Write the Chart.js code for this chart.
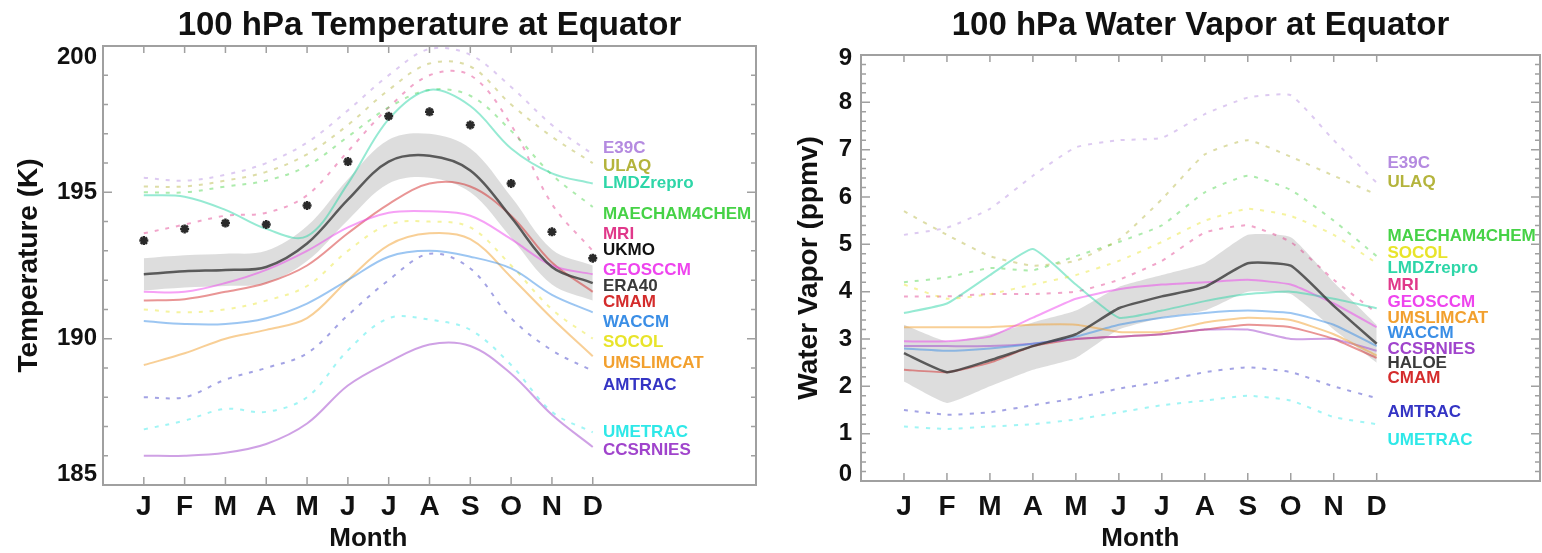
<!DOCTYPE html>
<html>
<head>
<meta charset="utf-8">
<title>100 hPa Temperature and Water Vapor at Equator</title>
<script src="https://cdn.jsdelivr.net/npm/chart.js@4.4.1/dist/chart.umd.min.js"></script>
<style>
  html, body { margin: 0; padding: 0; background: #fff; }
  #wrap { position: relative; width: 1542px; height: 553px; overflow: hidden; }
  #wrap canvas { position: absolute; top: 0; }
  #tempChart { left: 0; }
  #h2oChart { left: 770px; }
</style>
</head>
<body>
<div id="wrap">
  <canvas id="tempChart" width="770" height="553"></canvas>
  <canvas id="h2oChart" width="772" height="553"></canvas>
</div>
<script>
const months = ['J', 'F', 'M', 'A', 'M', 'J', 'J', 'A', 'S', 'O', 'N', 'D'];

// 100 hPa temperature (K), monthly climatology
const tempE39C      = [195.5, 195.4, 195.6, 196.0, 196.7, 197.8, 199.0, 199.9, 199.7, 198.6, 197.3, 196.3];
const tempULAQ      = [195.2, 195.2, 195.4, 195.7, 196.3, 197.3, 198.5, 199.4, 199.3, 198.0, 196.9, 196.0];
const tempLMDZrepro = [194.9, 194.85, 194.4, 193.75, 193.5, 195.3, 197.5, 198.5, 197.95, 196.5, 195.65, 195.3];
const tempMAECHAM   = [195.0, 195.0, 195.2, 195.4, 195.9, 196.9, 197.9, 198.5, 198.3, 197.1, 195.6, 194.5];
const tempMRI       = [193.6, 193.9, 194.2, 194.3, 194.9, 196.4, 197.9, 199.0, 199.0, 197.3, 194.6, 193.0];
const tempUKMO      = [193.35, 193.75, 193.95, 193.9, 194.55, 196.05, 197.6, 197.75, 197.3, 195.3, 193.65, 192.75];
const tempGEOSCCM   = [191.6, 191.6, 191.9, 192.35, 193.0, 193.8, 194.3, 194.35, 194.2, 193.4, 192.5, 192.2];
const tempERA40     = [192.2, 192.3, 192.35, 192.45, 193.25, 194.75, 196.05, 196.25, 195.75, 194.15, 192.45, 191.9];
const tempERA40Std  = [0.55, 0.55, 0.55, 0.55, 0.6, 0.7, 0.75, 0.75, 0.75, 0.7, 0.6, 0.6];
const tempCMAM      = [191.3, 191.35, 191.6, 191.9, 192.5, 193.6, 194.6, 195.3, 195.2, 194.2, 192.6, 191.6];
const tempWACCM     = [190.6, 190.5, 190.5, 190.7, 191.2, 192.0, 192.8, 193.0, 192.8, 192.4, 191.5, 190.9];
const tempSOCOL     = [191.0, 190.9, 191.0, 191.3, 191.8, 193.0, 193.9, 194.0, 193.8, 192.5, 191.0, 190.0];
const tempUMSLIMCAT = [189.1, 189.5, 190.0, 190.3, 190.7, 192.0, 193.2, 193.6, 193.4, 192.1, 190.7, 189.4];
const tempAMTRAC    = [188.0, 188.0, 188.6, 189.0, 189.5, 190.8, 192.0, 192.9, 192.4, 190.7, 189.6, 188.9];
const tempUMETRAC   = [186.9, 187.2, 187.6, 187.5, 188.0, 189.6, 190.7, 190.65, 190.3, 189.1, 187.5, 186.8];
const tempCCSRNIES  = [186.0, 186.0, 186.1, 186.4, 187.1, 188.4, 189.2, 189.8, 189.75, 188.8, 187.4, 186.3];

// 100 hPa water vapour (ppmv), monthly climatology
const h2oE39C      = [5.2, 5.35, 5.75, 6.45, 7.05, 7.2, 7.25, 7.75, 8.1, 8.15, 7.2, 6.3];
const h2oULAQ      = [5.7, 5.2, 4.75, 4.55, 4.65, 5.1, 5.95, 6.9, 7.2, 6.85, 6.45, 6.05];
const h2oMAECHAM   = [4.2, 4.3, 4.5, 4.45, 4.75, 5.05, 5.4, 6.1, 6.45, 6.15, 5.5, 4.75];
const h2oSOCOL     = [4.15, 3.85, 3.95, 4.15, 4.35, 4.65, 5.05, 5.5, 5.75, 5.6, 5.2, 4.6];
const h2oLMDZrepro = [3.55, 3.75, 4.35, 4.9, 4.15, 3.45, 3.6, 3.8, 3.95, 4.0, 3.85, 3.65];
const h2oMRI       = [3.9, 3.9, 3.95, 3.95, 4.0, 4.25, 4.65, 5.25, 5.4, 5.05, 4.25, 3.55];
const h2oGEOSCCM   = [2.95, 2.95, 3.05, 3.45, 3.85, 4.05, 4.15, 4.2, 4.25, 4.15, 3.75, 3.25];
const h2oUMSLIMCAT = [3.25, 3.25, 3.25, 3.3, 3.3, 3.15, 3.15, 3.35, 3.45, 3.4, 3.1, 2.65];
const h2oWACCM     = [2.8, 2.75, 2.8, 2.9, 3.05, 3.3, 3.45, 3.55, 3.6, 3.55, 3.3, 2.85];
const h2oCCSRNIES  = [2.85, 2.85, 2.85, 2.9, 3.0, 3.05, 3.1, 3.2, 3.2, 3.0, 3.0, 2.75];
const h2oHALOE     = [2.7, 2.3, 2.55, 2.85, 3.1, 3.65, 3.9, 4.1, 4.6, 4.55, 3.7, 2.9];
const h2oHALOEStd  = [0.6, 0.65, 0.55, 0.5, 0.5, 0.45, 0.45, 0.5, 0.6, 0.6, 0.5, 0.4];
const h2oCMAM      = [2.35, 2.3, 2.5, 2.85, 3.0, 3.05, 3.1, 3.2, 3.3, 3.25, 3.0, 2.6];
const h2oAMTRAC    = [1.5, 1.4, 1.45, 1.6, 1.75, 1.95, 2.1, 2.3, 2.4, 2.3, 2.0, 1.75];
const h2oUMETRAC   = [1.15, 1.1, 1.15, 1.2, 1.3, 1.45, 1.6, 1.7, 1.8, 1.7, 1.35, 1.2];

const FONT = '"Liberation Sans", Arial, Helvetica, sans-serif';
Chart.defaults.font.family = FONT;
Chart.defaults.color = '#111';

// line styles shared by both panels; tag = where the name is written at the right
const tempSeries = [
  { name: 'E39C',         values: tempE39C,      color: '#b48ae0', dashed: true,  tag: 196.5 },
  { name: 'ULAQ',         values: tempULAQ,      color: '#b4b43c', dashed: true,  tag: 195.9 },
  { name: 'LMDZrepro',    values: tempLMDZrepro, color: '#2ed6a8', dashed: false, tag: 195.3 },
  { name: 'MAECHAM4CHEM', values: tempMAECHAM,   color: '#46d246', dashed: true,  tag: 194.26 },
  { name: 'MRI',          values: tempMRI,       color: '#e0388a', dashed: true,  tag: 193.58 },
  { name: 'UKMO',         values: tempUKMO,      color: '#111111', stars: true,   tag: 193.03 },
  { name: 'GEOSCCM',      values: tempGEOSCCM,   color: '#ee44ee', dashed: false, tag: 192.35 },
  { name: 'ERA40',        values: tempERA40,     color: '#3a3a3a', dashed: false, tag: 191.8, spread: tempERA40Std },
  { name: 'CMAM',         values: tempCMAM,      color: '#d42c2c', dashed: false, tag: 191.25 },
  { name: 'WACCM',        values: tempWACCM,     color: '#3a8ee6', dashed: false, tag: 190.57 },
  { name: 'SOCOL',        values: tempSOCOL,     color: '#e8e42a', dashed: true,  tag: 189.89 },
  { name: 'UMSLIMCAT',    values: tempUMSLIMCAT, color: '#f2a02e', dashed: false, tag: 189.17 },
  { name: 'AMTRAC',       values: tempAMTRAC,    color: '#3434c4', dashed: true,  tag: 188.42 },
  { name: 'UMETRAC',      values: tempUMETRAC,   color: '#2ee8e8', dashed: true,  tag: 186.81 },
  { name: 'CCSRNIES',     values: tempCCSRNIES,  color: '#a044cc', dashed: false, tag: 186.2 }
];

const h2oSeries = [
  { name: 'E39C',         values: h2oE39C,      color: '#b48ae0', dashed: true,  tag: 6.72 },
  { name: 'ULAQ',         values: h2oULAQ,      color: '#b4b43c', dashed: true,  tag: 6.3 },
  { name: 'MAECHAM4CHEM', values: h2oMAECHAM,   color: '#46d246', dashed: true,  tag: 5.16 },
  { name: 'SOCOL',        values: h2oSOCOL,     color: '#e8e42a', dashed: true,  tag: 4.82 },
  { name: 'LMDZrepro',    values: h2oLMDZrepro, color: '#2ed6a8', dashed: false, tag: 4.5 },
  { name: 'MRI',          values: h2oMRI,       color: '#e0388a', dashed: true,  tag: 4.14 },
  { name: 'GEOSCCM',      values: h2oGEOSCCM,   color: '#ee44ee', dashed: false, tag: 3.78 },
  { name: 'UMSLIMCAT',    values: h2oUMSLIMCAT, color: '#f2a02e', dashed: false, tag: 3.44 },
  { name: 'WACCM',        values: h2oWACCM,     color: '#3a8ee6', dashed: false, tag: 3.13 },
  { name: 'CCSRNIES',     values: h2oCCSRNIES,  color: '#a044cc', dashed: false, tag: 2.79 },
  { name: 'HALOE',        values: h2oHALOE,     color: '#3a3a3a', dashed: false, tag: 2.49, spread: h2oHALOEStd },
  { name: 'CMAM',         values: h2oCMAM,      color: '#d42c2c', dashed: false, tag: 2.18 },
  { name: 'AMTRAC',       values: h2oAMTRAC,    color: '#3434c4', dashed: true,  tag: 1.46 },
  { name: 'UMETRAC',      values: h2oUMETRAC,   color: '#2ee8e8', dashed: true,  tag: 0.87 }
];

function alpha(hex, a) {
  const n = parseInt(hex.slice(1), 16);
  return `rgba(${(n >> 16) & 255}, ${(n >> 8) & 255}, ${n & 255}, ${a})`;
}

const toPoints = vals => vals.map((v, i) => ({ x: i + 1, y: v }));

function buildDatasets(series, tension) {
  const sets = [];
  series.forEach(s => {
    if (s.spread) {
      // shaded +/- 1 sigma envelope behind the observed curve
      sets.push({ data: toPoints(s.values.map((v, i) => v + s.spread[i])),
        borderWidth: 0, pointRadius: 0, fill: false, tension, order: 50 });
      sets.push({ data: toPoints(s.values.map((v, i) => v - s.spread[i])),
        borderWidth: 0, pointRadius: 0, fill: '-1', tension, order: 50,
        backgroundColor: 'rgba(170, 170, 170, 0.4)' });
    }
    if (s.stars) {
      sets.push({ label: s.name, data: toPoints(s.values), showLine: false,
        pointStyle: 'star', pointRadius: 4.5, borderWidth: 2.5, borderColor: '#2a2a2a',
        tagColor: s.color, tag: s.tag, order: 0 });
      return;
    }
    const dark = !!s.spread;
    sets.push({
      label: s.name,
      data: toPoints(s.values),
      borderColor: dark ? alpha(s.color, 0.8) : alpha(s.color, s.dashed ? 0.45 : 0.5),
      borderWidth: dark ? 2.5 : 2,
      borderDash: s.dashed ? [4, 7] : [],
      pointRadius: 0,
      fill: false,
      tension,
      tagColor: s.color,
      tag: s.tag,
      order: dark ? 1 : 5
    });
  });
  return sets;
}

// box frame with inward ticks, y values, month axis title and series names
const idlFrame = {
  id: 'idlFrame',
  afterDatasetsDraw(chart, args, opts) {
    const { ctx, chartArea: a, scales: { x, y } } = chart;
    ctx.save();
    ctx.strokeStyle = '#a0a0a0';
    ctx.lineWidth = 2;
    ctx.strokeRect(a.left, a.top, a.right - a.left, a.bottom - a.top);

    ctx.lineWidth = 1.5;
    ctx.beginPath();
    months.forEach((m, i) => {
      const px = x.getPixelForValue(i + 1);
      ctx.moveTo(px, a.bottom); ctx.lineTo(px, a.bottom - 8);
      ctx.moveTo(px, a.top); ctx.lineTo(px, a.top + 7);
    });
    const steps = Math.round((y.max - y.min) / opts.minorStep);
    for (let k = 0; k <= steps; k++) {
      const v = y.min + k * opts.minorStep;
      const major = Math.abs(v / opts.majorStep - Math.round(v / opts.majorStep)) < 1e-6;
      const len = major ? 9 : 5;
      const py = y.getPixelForValue(v);
      ctx.moveTo(a.left, py); ctx.lineTo(a.left + len, py);
      ctx.moveTo(a.right, py); ctx.lineTo(a.right - len, py);
    }
    ctx.stroke();

    // y values, the end ones pulled inside the frame
    ctx.fillStyle = '#111';
    ctx.font = `bold 24px ${FONT}`;
    ctx.textAlign = 'right';
    ctx.textBaseline = 'middle';
    y.ticks.forEach(t => {
      const py = Math.min(Math.max(y.getPixelForValue(t.value), a.top + opts.insetTop), a.bottom - opts.insetBottom);
      ctx.fillText(String(t.value), a.left - opts.yTickPad, py);
    });

    ctx.font = `bold 26px ${FONT}`;
    ctx.textAlign = 'center';
    ctx.fillText('Month', x.getPixelForValue((1 + months.length) / 2), chart.height - 14);

    ctx.font = `bold 17px ${FONT}`;
    ctx.textAlign = 'left';
    chart.data.datasets.forEach(ds => {
      if (ds.tag === undefined) return;
      ctx.fillStyle = ds.tagColor;
      ctx.fillText(ds.label, x.getPixelForValue(opts.tagX), y.getPixelForValue(ds.tag));
    });
    ctx.restore();
  }
};

function makeChart(id, cfg) {
  return new Chart(document.getElementById(id), {
    type: 'line',
    data: { datasets: buildDatasets(cfg.series, cfg.tension) },
    plugins: [idlFrame],
    options: {
      responsive: false,
      animation: false,
      devicePixelRatio: 1,
      events: [],
      layout: { padding: { left: 0, right: cfg.padRight, top: 0, bottom: 0 } },
      plugins: {
        legend: { display: false },
        tooltip: { enabled: false },
        title: {
          display: true,
          text: cfg.title,
          fullSize: false,
          color: '#111',
          font: { size: 33, weight: 'bold', lineHeight: 1.1 },
          padding: cfg.titlePad
        },
        idlFrame: {
          minorStep: cfg.minorStep, majorStep: cfg.majorStep, tagX: 12.25,
          yTickPad: cfg.yTickPad, insetTop: cfg.insetTop, insetBottom: cfg.insetBottom
        }
      },
      scales: {
        x: {
          type: 'linear',
          min: 0,
          max: cfg.xMax,
          afterBuildTicks: s => { s.ticks = months.map((m, i) => ({ value: i + 1 })); },
          afterFit: s => { s.height = cfg.xAxisHeight; },
          ticks: {
            autoSkip: false,
            maxRotation: 0,
            padding: cfg.monthPad,
            font: { size: 28, weight: 'bold' },
            callback: v => months[v - 1] || ''
          },
          grid: { display: false, drawTicks: false },
          border: { display: false }
        },
        y: {
          min: cfg.yMin,
          max: cfg.yMax,
          afterFit: s => { s.width = cfg.yAxisWidth; },
          ticks: { stepSize: cfg.majorStep, display: false },
          grid: { display: false, drawTicks: false },
          border: { display: false },
          title: {
            display: true,
            text: cfg.yTitle,
            font: { size: 28, weight: 'bold' },
            padding: { top: cfg.yTitlePad, bottom: 0 }
          }
        }
      }
    }
  });
}

makeChart('tempChart', {
  title: '100 hPa Temperature at Equator',
  titlePad: { top: 8, bottom: 1.7 },
  series: tempSeries,
  tension: 0.35,
  yMin: 185, yMax: 200, majorStep: 5, minorStep: 1,
  yTitle: 'Temperature (K)', yTitlePad: 12,
  xMax: 16, yAxisWidth: 103, xAxisHeight: 68, padRight: 14,
  yTickPad: 6, monthPad: 5, insetTop: 11, insetBottom: 11
});

makeChart('h2oChart', {
  title: '100 hPa Water Vapor at Equator',
  titlePad: { top: 8, bottom: 10.7 },
  series: h2oSeries,
  tension: 0.15,
  yMin: 0, yMax: 9, majorStep: 1, minorStep: 0.2,
  yTitle: 'Water Vapor (ppmv)', yTitlePad: 22,
  xMax: 15.8, yAxisWidth: 91, xAxisHeight: 72, padRight: 2,
  yTickPad: 9, monthPad: 9, insetTop: 3, insetBottom: 7
});
</script>
</body>
</html>
